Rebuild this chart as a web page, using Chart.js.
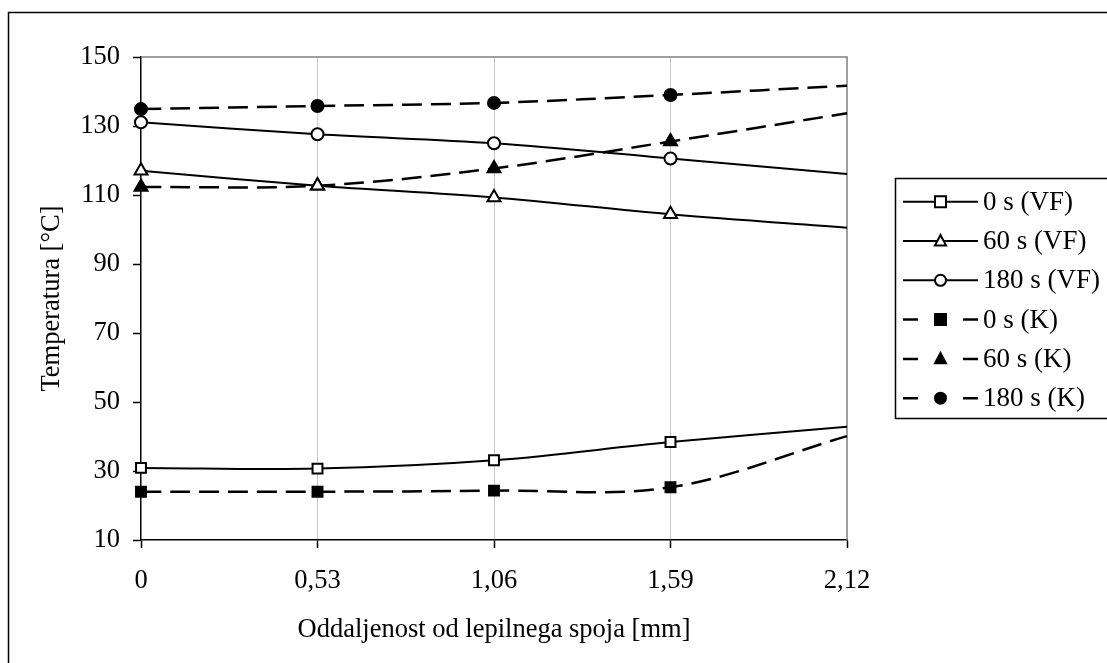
<!DOCTYPE html>
<html>
<head>
<meta charset="utf-8">
<script src="https://cdn.jsdelivr.net/npm/chart.js@4/dist/chart.umd.min.js"></script>
<style>
  html, body { margin: 0; padding: 0; background: #fff; }
  #wrap { width: 1107px; height: 663px; }
</style>
</head>
<body>
<div id="wrap"><canvas id="chart" width="1107" height="663"></canvas></div>
<script>
// x categories (distance from the adhesive joint, mm)
const categories = ['0', '0,53', '1,06', '1,59', '2,12'];

// temperatures [°C]
const vf0   = [30.9, 30.7, 33.1, 38.4, 42.8];
const vf60  = [117.0, 112.7, 109.3, 104.4, 100.5];
const vf180 = [131.1, 127.6, 125.0, 120.6, 116.1];
const k0    = [24.0, 24.0, 24.3, 25.3, 40.1];
const k60   = [112.3, 112.7, 117.7, 125.5, 133.7];
const k180  = [134.9, 135.8, 136.7, 139.0, 141.7];

const seriesNames = ['0 s (VF)', '60 s (VF)', '180 s (VF)', '0 s (K)', '60 s (K)', '180 s (K)'];
const yTicks = [10, 30, 50, 70, 90, 110, 130, 150];

const FONT = "'Liberation Serif', 'Times New Roman', serif";
const DASH = [20, 9];

function series(label, data, style, radius, dashed)
{
	return {
		label: label,
		data: data,
		borderColor: '#000',
		borderWidth: dashed ? 2.5 : 2,
		borderDash: dashed ? DASH : [],
		tension: 0.35,
		fill: false,
		clip: false,
		pointStyle: style,
		// last point (2,12) has no marker
		pointRadius: data.map((v, i) => i === data.length - 1 ? 0 : radius),
		pointHoverRadius: data.map((v, i) => i === data.length - 1 ? 0 : radius),
		pointBorderColor: '#000',
		pointBackgroundColor: dashed ? '#000' : '#fff',
		pointBorderWidth: 2
	};
}

function marker(ctx, style, x, y, r, filled)
{
	ctx.save();
	ctx.setLineDash([]);
	ctx.lineWidth = 2;
	ctx.strokeStyle = '#000';
	ctx.fillStyle = filled ? '#000' : '#fff';
	ctx.beginPath();
	if (style === 'rect') {
		ctx.rect(x - r, y - r, 2 * r, 2 * r);
	} else if (style === 'triangle') {
		ctx.moveTo(x, y - r * 1.1);
		ctx.lineTo(x + r, y + r * 0.8);
		ctx.lineTo(x - r, y + r * 0.8);
		ctx.closePath();
	} else {
		ctx.arc(x, y, r, 0, Math.PI * 2);
	}
	ctx.fill();
	ctx.stroke();
	ctx.restore();
}

const framePlugin = {
	id: 'frame',
	beforeDraw(chart) {
		const ctx = chart.ctx;
		ctx.save();
		ctx.fillStyle = '#fff';
		ctx.fillRect(0, 0, chart.width, chart.height);
		ctx.strokeStyle = '#000';
		ctx.lineWidth = 1.5;
		ctx.strokeRect(8.5, 12.5, 2000, 2000);
		ctx.restore();
	},
	beforeDatasetsDraw(chart) {
		const a = chart.chartArea;
		const ctx = chart.ctx;
		ctx.save();
		ctx.strokeStyle = '#808080';
		ctx.lineWidth = 1.5;
		ctx.beginPath();
		ctx.moveTo(a.left, a.top);
		ctx.lineTo(a.right, a.top);
		ctx.lineTo(a.right, a.bottom);
		ctx.stroke();
		ctx.restore();
	}
};

const legendPlugin = {
	id: 'lineLegend',
	afterDraw(chart) {
		const ctx = chart.ctx;
		ctx.save();
		ctx.strokeStyle = '#000';
		ctx.lineWidth = 1.5;
		ctx.strokeRect(895.5, 178.5, 400, 240);
		chart.data.datasets.forEach((ds, i) => {
			const y = 201.7 + i * 39.3;
			const dashed = ds.borderDash.length > 0;
			ctx.lineWidth = dashed ? 2.5 : 2;
			ctx.beginPath();
			if (dashed) {
				ctx.moveTo(903, y); ctx.lineTo(918, y);
				ctx.moveTo(963, y); ctx.lineTo(978, y);
			} else {
				ctx.moveTo(903, y); ctx.lineTo(978, y);
			}
			ctx.stroke();
			marker(ctx, ds.pointStyle, 940.5, y, 5.5, dashed);
			ctx.fillStyle = '#000';
			ctx.font = '27px ' + FONT;
			ctx.textBaseline = 'middle';
			ctx.textAlign = 'left';
			ctx.fillText(ds.label, 983, y + 1);
		});
		ctx.restore();
	}
};

new Chart(
	document.getElementById('chart')
,	{
		type: 'line'
	,	data:
		{
			labels: categories,
			datasets:
			[
				series(seriesNames[0], vf0, 'rect', 7, false)
			,	series(seriesNames[1], vf60, 'triangle', 7.5, false)
			,	series(seriesNames[2], vf180, 'circle', 6, false)
			,	series(seriesNames[3], k0, 'rect', 7, true)
			,	series(seriesNames[4], k60, 'triangle', 7.5, true)
			,	series(seriesNames[5], k180, 'circle', 6, true)
			]
		}
	,	options:
		{
			responsive: false,
			animation: false,
			events: [],
			layout: { padding: { left: 9, top: 57, right: 260, bottom: 0 } },
			plugins: {
				legend: { display: false },
				tooltip: { enabled: false }
			},
			scales:
			{
				x: {
					type: 'category',
					offset: false,
					afterFit: s => { s.height = 123; },
					grid: {
						color: c => (c.index === 0 || c.index === categories.length - 1) ? 'rgba(0,0,0,0)' : '#c8c8c8',
						lineWidth: 1,
						tickColor: '#000',
						tickLength: 8,
						tickWidth: 1.5
					},
					border: { color: '#000', width: 1.5 },
					ticks: { color: '#000', font: { family: FONT, size: 26.5 }, padding: 17, maxRotation: 0, autoSkip: false },
					title: {
						display: true,
						text: 'Oddaljenost od lepilnega spoja [mm]',
						color: '#000',
						font: { family: FONT, size: 26.5 },
						padding: { top: 0, bottom: 17 }
					}
				},
				y: {
					min: yTicks[0],
					max: yTicks[yTicks.length - 1],
					afterFit: s => { s.width = 132; },
					afterBuildTicks: s => { s.ticks = yTicks.map(v => ({ value: v })); },
					grid: {
						drawOnChartArea: false,
						tickColor: '#000',
						tickLength: 8,
						tickWidth: 1.5
					},
					border: { color: '#000', width: 1.5 },
					ticks: { color: '#000', font: { family: FONT, size: 26.5 }, padding: 13 },
					title: {
						display: true,
						text: 'Temperatura [°C]',
						color: '#000',
						font: { family: FONT, size: 26.5 },
						padding: { top: 27, bottom: 0 }
					}
				}
			}
		}
	,	plugins: [framePlugin, legendPlugin]
	}
);
</script>
</body>
</html>
